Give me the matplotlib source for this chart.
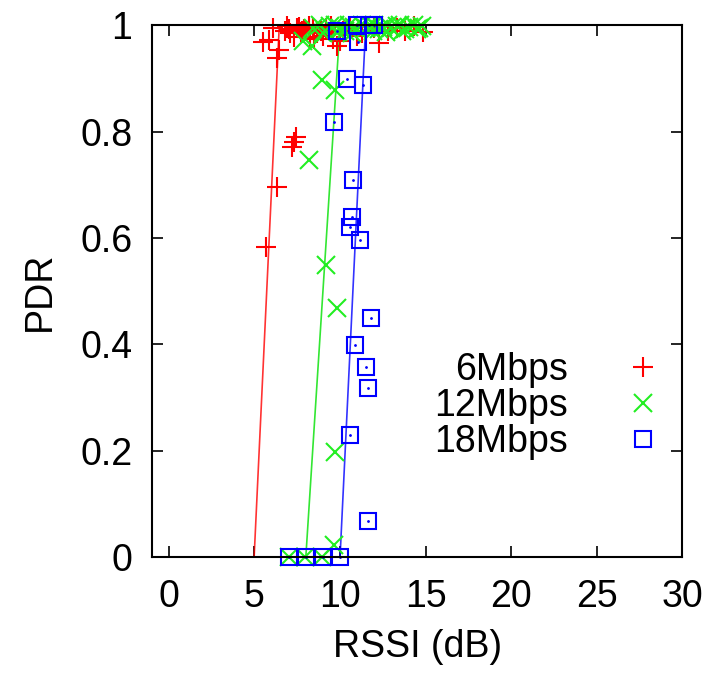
import matplotlib
matplotlib.use("Agg")
import matplotlib.pyplot as plt

plt.rcParams['font.family'] = ['Liberation Sans', 'DejaVu Sans']

# measured points (RSSI dB, PDR)
red_x = [5.66, 6.30, 7.29, 7.20, 7.40, 6.33, 5.52, 5.85, 6.43, 7.30, 7.69, 7.50,
         7.80, 7.90, 8.00, 7.60, 8.27, 8.66, 8.90, 9.20, 9.50, 9.80, 9.60, 10.2,
         10.6, 11.0, 11.5, 12.0, 12.3, 12.8, 13.3, 13.8, 14.3, 14.85, 6.80, 7.10,
         8.40, 9.00, 10.0, 11.3, 6.9, 7.0, 8.2, 8.5, 6.1]
red_y = [0.583, 0.696, 0.781, 0.771, 0.790, 0.939, 0.969, 0.972, 0.953, 0.978, 0.987, 0.995,
         0.990, 0.993, 0.990, 0.997, 0.978, 0.985, 0.990, 0.995, 0.998, 0.960, 0.975, 0.990,
         0.995, 0.980, 0.990, 0.995, 0.966, 0.990, 0.995, 0.990, 0.998, 0.987, 0.990, 0.985,
         0.995, 0.980, 0.970, 0.985, 0.998, 0.992, 0.999, 0.975, 0.995]

green_x = [7.00, 7.98, 8.95, 9.63, 9.69, 9.82, 9.20, 8.18, 8.95, 9.73, 7.85, 8.37,
           8.4, 8.8, 9.1, 9.4, 9.7, 10.0, 10.3, 10.5, 10.8, 11.0, 11.3, 11.5,
           11.8, 12.0, 12.3, 12.5, 12.8, 13.0, 13.3, 13.5, 13.8, 14.0, 14.3, 14.6,
           14.8, 9.0, 9.9, 10.7, 11.9, 12.7, 13.6, 14.5]
green_y = [0.0, 0.0, 0.0, 0.022, 0.198, 0.469, 0.549, 0.747, 0.897, 0.878, 0.970, 0.960,
           0.995, 1.000, 0.990, 0.998, 1.000, 0.995, 0.990, 1.000, 0.997, 0.993, 1.000, 0.995,
           0.998, 1.000, 0.992, 0.997, 1.000, 0.995, 0.998, 1.000, 0.993, 0.997, 1.000, 0.995,
           0.998, 0.985, 0.988, 0.985, 0.990, 0.988, 0.990, 0.992]

blue_x = [7.0, 8.0, 9.0, 10.0, 11.66, 10.56, 11.63, 11.51, 10.89, 11.80, 11.18, 10.56,
          10.70, 10.74, 9.67, 10.40, 11.34, 11.03, 9.82, 11.0, 11.7, 12.0]
blue_y = [0.0, 0.0, 0.0, 0.0, 0.068, 0.229, 0.317, 0.358, 0.398, 0.449, 0.596, 0.621,
          0.640, 0.709, 0.818, 0.898, 0.888, 0.969, 0.989, 1.0, 1.0, 1.0]

# linear fits: RSSI at PDR=0 and PDR=1
fit_y = [0, 1]
fit_red = [4.98, 6.45]
fit_green = [8.0, 10.0]
fit_blue = [10.0, 11.5]

xticks = [0, 5, 10, 15, 20, 25, 30]
yticks = [0, 0.2, 0.4, 0.6, 0.8, 1]
ylabels = ['0', '0.2', '0.4', '0.6', '0.8', '1']

FS = 27

fig = plt.figure(figsize=(7.16, 6.74), dpi=100)
ax = fig.add_axes([0.212, 0.1736, 0.741, 0.789])

ax.plot(fit_red, fit_y, color='#ff0000', lw=1.2, alpha=0.8)
ax.plot(fit_green, fit_y, color='#00e000', lw=1.2, alpha=0.8)
ax.plot(fit_blue, fit_y, color='#0000ff', lw=1.2, alpha=0.8)

ax.plot(red_x, red_y, ls='none', marker='+', ms=14, mew=1.5, color='#ff0000',
        clip_on=False, label='6Mbps')
ax.plot(green_x, green_y, ls='none', marker='x', ms=13, mew=1.5, color='#22ee22',
        clip_on=False, label='12Mbps')
ax.plot(blue_x, blue_y, ls='none', marker='s', ms=12, mew=1.5, mfc='none',
        color='#0000ff', clip_on=False)
ax.plot(blue_x, blue_y, ls='none', marker='.', ms=2, color='#0000ff', clip_on=False)

# legend handle for the box-dot marker
h_blue, = ax.plot([], [], ls='none', marker='s', ms=12, mew=1.5, mfc='none',
                  color='#0000ff', label='18Mbps')

ax.set_xlim(-1, 30)
ax.set_ylim(0, 1)
ax.set_xticks(xticks)
ax.set_yticks(yticks)
ax.set_yticklabels(ylabels)
ax.tick_params(direction='in', top=True, right=True, length=8, width=1.2,
               labelsize=FS)
ax.tick_params(axis='x', pad=16)
ax.tick_params(axis='y', pad=14)
for s in ax.spines.values():
    s.set_linewidth(1.5)

ax.set_xlabel('RSSI (dB)', fontsize=FS, labelpad=10)
ax.set_ylabel('PDR', fontsize=FS, labelpad=16)

leg = ax.legend(loc='center right', bbox_to_anchor=(0.997, 0.283), frameon=False,
                markerfirst=False, fontsize=FS, handlelength=1.0, handletextpad=1.5,
                labelspacing=0.0, borderpad=0)

fig.savefig('out.png', dpi=100)
